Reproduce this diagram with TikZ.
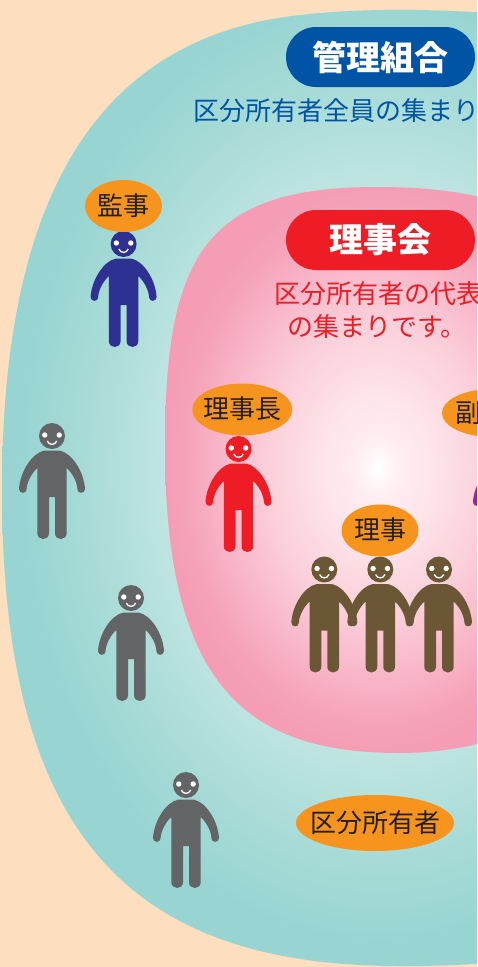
\documentclass[tikz,border=0pt]{standalone}
\usepackage{fontspec}
\usetikzlibrary{shapes.geometric}
\newfontfamily\cjk{Noto Sans CJK JP}
\definecolor{bgpeach}{HTML}{FDDEBF}
\definecolor{orangelab}{HTML}{F7941D}
\definecolor{navyman}{HTML}{2E3192}
\definecolor{redman}{HTML}{EE1C25}
\definecolor{grayman}{HTML}{636466}
\definecolor{brownman}{HTML}{6B5735}
\definecolor{purpleman}{HTML}{92278F}
\definecolor{bluepill}{HTML}{0054A6}
\definecolor{inkdark}{HTML}{231F20}
\definecolor{tealA}{HTML}{DCF0EE}
\definecolor{tealB}{HTML}{C0E5E1}
\definecolor{tealC}{HTML}{A5DAD6}
\definecolor{tealD}{HTML}{98D5D2}
\definecolor{pinkA}{HTML}{FFFFFF}
\definecolor{pinkB}{HTML}{FFEEF2}
\definecolor{pinkC}{HTML}{FEE4EA}
\definecolor{pinkD}{HTML}{FBCFDA}
\definecolor{pinkE}{HTML}{F9B5C8}
\definecolor{pinkF}{HTML}{F5A3B9}
\definecolor{pinkG}{HTML}{F49DB4}
\pgfdeclareradialshading{tealglow}{\pgfpointorigin}{
  color(0bp)=(tealA);
  color(14bp)=(tealB);
  color(20bp)=(tealC);
  color(23.5bp)=(tealD);
  color(50bp)=(tealD)}
\pgfdeclareradialshading{pinkglow}{\pgfpointorigin}{
  color(0bp)=(pinkA);
  color(2.5bp)=(pinkB);
  color(6.5bp)=(pinkC);
  color(13bp)=(pinkD);
  color(18.5bp)=(pinkE);
  color(22.5bp)=(pinkF);
  color(25bp)=(pinkG);
  color(50bp)=(pinkG)}
\newcommand{\lab}[1]{\makebox[0pt]{\raisebox{-.36em}[0pt][0pt]{#1}}}
\tikzset{
  pics/person/.style={code={
    \fill[#1] (0,0) circle (13);
    \fill[#1] (-8,14.7) .. controls (-20,17) and (-32,36) .. (-33,53)
      .. controls (-33,58) and (-25.5,58) .. (-25.5,53.5)
      .. controls (-25,45) and (-20,37) .. (-14.7,32)
      -- (-14.7,97) .. controls (-14.7,105) and (-3,105) .. (-3,97)
      -- (-3,61) -- (3,61) -- (3,97)
      .. controls (3,105) and (14.7,105) .. (14.7,97)
      -- (14.7,32) .. controls (20,37) and (25,45) .. (25.5,53.5)
      .. controls (25.5,58) and (33,58) .. (33,53)
      .. controls (32,36) and (20,17) .. (8,14.7) -- cycle;
    \fill[white] (-7.2,-1) circle (2.7) (7.2,-1) circle (2.7);
    \draw[white,line width=1.3pt] (-4.7,5) .. controls (-3,9.5) and (3,9.5) .. (4.7,5);
  }},
  labelblob/.style={ellipse,fill=orangelab,text=inkdark,inner sep=0pt,minimum height=52pt,
    font=\cjk\fontsize{26}{26}\selectfont},
  pill/.style={rounded corners=30pt,minimum width=189pt,minimum height=60pt,inner sep=0pt,
    text=white,font=\cjk\bfseries\fontsize{34}{34}\selectfont},
  caption/.style={anchor=west,inner sep=0pt,font=\cjk\fontsize{26}{26}\selectfont}
}
\begin{document}
\begin{tikzpicture}[x=1pt,y=-1pt]
\useasboundingbox (0,0) rectangle (477,967);
\clip (0,0) rectangle (477,967);
\fill[bgpeach] (0,0) rectangle (477,967);
\begin{scope}
  \clip (490,13) .. controls (430,9) and (360,8) .. (300,15)
    .. controls (70,40) and (2,240) .. (2,490)
    .. controls (2,830) and (125,966) .. (400,966)
    .. controls (440,966) and (460,965) .. (490,963) -- cycle;
  \shade[shading=tealglow] (-2,-30) rectangle (758,970);
\end{scope}
\begin{scope}
  \clip (490,199) .. controls (450,190) and (420,187) .. (377,187)
    .. controls (205,187) and (165,255) .. (165,447)
    .. controls (165,690) and (250,753) .. (400,753)
    .. controls (430,753) and (460,749) .. (490,741) -- cycle;
  \shade[shading=pinkglow] (163,183) rectangle (593,753);
\end{scope}
\pic (kanji) at (123.6,244) {person=navyman};
\pic (owner1) at (52,436) {person=grayman};
\pic (owner2) at (131,598) {person=grayman};
\pic (owner3) at (186,785) {person=grayman};
\pic (chair) at (238.5,449) {person=redman};
\pic (vice) at (506,449) {person=purpleman};
\pic (dir1) at (324.3,569.5) {person=brownman};
\pic (dir2) at (380.3,569.5) {person=brownman};
\pic (dir3) at (439,569.5) {person=brownman};
\node[pill,fill=bluepill] (kumiai) at (380.5,57) {管理組合};
\node[caption,text=bluepill] (kumiaitext) at (193,111) {区分所有者全員の集まり};
\node[pill,fill=redman] (rijikai) at (380.5,240) {理事会};
\node[caption,text=redman] (rijikaitext1) at (274,293.5) {区分所有者の代表};
\node[caption,text=redman] (rijikaitext2) at (287,326.5) {の集まりです。};
\node[labelblob,minimum width=77pt] (lkanji) at (123.5,206) {\lab{監事}};
\node[labelblob,minimum width=100pt] (lchair) at (242.3,409.5) {\lab{理事長}};
\node[labelblob,minimum width=100pt,minimum height=48pt] (lvice) at (492,413) {\hspace*{-48pt}\lab{副}};
\node[labelblob,minimum width=77pt] (ldir) at (380,530.5) {\lab{理事}};
\node[labelblob,minimum width=158pt,minimum height=56pt] (lowner) at (375,823) {\lab{区分所有者}};
\end{tikzpicture}
\end{document}
